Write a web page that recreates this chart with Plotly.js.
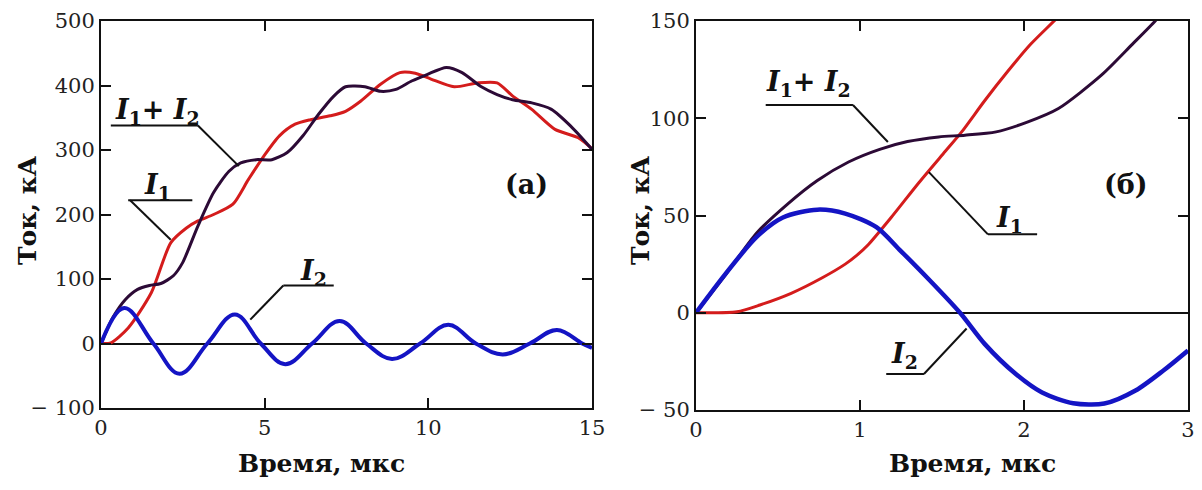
<!DOCTYPE html>
<html>
<head>
<meta charset="utf-8">
<script src="https://cdn.plot.ly/plotly-3.0.1.min.js"></script>
<style>
html,body{margin:0;padding:0;background:#fff;}
#chart{width:1202px;height:490px;}
</style>
</head>
<body>
<div id="chart"></div>
<script>
// ---------- Panel (а): 0–15 мкс ----------
const tA_I1 = [0, 0.3, 0.83, 1.54, 2.13, 2.61, 2.96, 3.44, 4.03, 4.5, 4.98, 5.45, 5.93, 6.4, 7.0, 7.47, 7.94, 8.54, 9.13, 9.6, 10.08, 10.79, 11.5, 12.1, 12.57, 13.16, 13.87, 14.58, 15];
const A_I1  = [0, 1, 24, 79, 156, 179, 190, 200, 216, 254, 291, 322, 340, 347, 353, 360, 376, 402, 420, 419, 410, 398, 404, 404, 384, 363, 332, 319, 302];

const tA_I2 = [0, 0.71, 1.6, 2.4, 3.25, 4.09, 4.88, 5.63, 6.45, 7.29, 8.1, 8.89, 9.75, 10.61, 11.45, 12.27, 13.1, 13.93, 14.7, 15];
const A_I2  = [0, 55, 0, -47, 0, 45, 0, -32, 0, 35, 0, -24, 0, 29, 0, -17, 0, 21, 0, -7];

const tA_Sum = [0, 0.37, 0.74, 1.12, 1.48, 1.83, 2.21, 2.49, 2.96, 3.44, 3.91, 4.27, 4.74, 5.22, 5.69, 6.17, 6.64, 7.12, 7.47, 8.06, 8.54, 9.01, 9.49, 9.96, 10.55, 11.03, 11.62, 12.1, 12.57, 13.16, 13.76, 14.35, 15];
const A_Sum  = [0, 41, 68, 84, 90, 93, 105, 125, 182, 234, 267, 280, 285, 285, 296, 322, 355, 384, 398, 398, 391, 394, 407, 417, 428, 420, 398, 386, 378, 373, 363, 337, 301];

// ---------- Panel (б): 0–3 мкс ----------
const tB_I1 = [0, 0.25, 0.39, 0.58, 0.77, 0.91, 0.98, 1.05, 1.19, 1.36, 1.52, 1.62, 1.76, 1.9, 2.04, 2.23, 2.35];
const B_I1  = [0, 0.5, 4, 10, 18, 25, 29.5, 35, 49, 67, 83, 93, 109, 124, 138, 154, 166];

const tB_I2 = [0, 0.18, 0.37, 0.53, 0.74, 0.91, 1.1, 1.24, 1.41, 1.61, 1.76, 1.95, 2.11, 2.3, 2.49, 2.68, 2.85, 3];
const B_I2  = [0, 20, 39, 49, 53, 51, 44, 32.5, 18, 0, -16, -31.5, -41, -46.5, -46.7, -40, -29.7, -19.4];

const tB_Sum = [0, 0.18, 0.37, 0.56, 0.74, 0.93, 1.12, 1.29, 1.48, 1.64, 1.83, 2.02, 2.21, 2.47, 2.66, 2.8, 2.9];
const B_Sum  = [0, 19.5, 41, 56, 68, 77.5, 84, 88, 90.4, 91.3, 93, 98, 105, 122, 138, 150, 160];

const xTicksA = [0, 5, 10, 15];
const yTicksA = [-100, 0, 100, 200, 300, 400, 500];
const yTextA  = ['\u2212 100', '0', '100', '200', '300', '400', '500'];
const xTicksB = [0, 1, 2, 3];
const yTicksB = [-50, 0, 50, 100, 150];
const yTextB  = ['\u2212 50', '0', '50', '100', '150'];

const RED = '#d41c1c', BLUE = '#1414c4', DARK = '#2c0a36';
const SERIF = 'DejaVu Serif';

function tr(x, y, color, w, xa, ya, sm) {
  return {x: x, y: y, xaxis: xa, yaxis: ya, type: 'scatter', mode: 'lines',
          line: {color: color, width: w, shape: 'spline', smoothing: sm}, hoverinfo: 'skip'};
}
const data = [
  tr(tA_I1, A_I1, RED, 3, 'x', 'y', 0.7),
  tr(tA_Sum, A_Sum, DARK, 3, 'x', 'y', 0.7),
  tr(tA_I2, A_I2, BLUE, 4, 'x', 'y', 1.1),
  tr(tB_I1, B_I1, RED, 3, 'x2', 'y2', 0.7),
  tr(tB_Sum, B_Sum, DARK, 3, 'x2', 'y2', 0.7),
  tr(tB_I2, B_I2, BLUE, 4.5, 'x2', 'y2', 0.8)
];

const W = 1202, H = 490;
const tickFont = {family: SERIF, size: 21, color: '#222'};
function axX(dom, range, ticks) {
  return {domain: dom, range: range, tickvals: ticks, ticktext: ticks.map(String),
    showline: true, linecolor: '#111', linewidth: 2, mirror: 'ticks',
    ticks: 'inside', ticklen: 10, tickwidth: 2, tickcolor: '#111',
    showgrid: false, zeroline: false, fixedrange: true, tickfont: tickFont};
}
function axY(dom, range, ticks, text, anchor) {
  return {domain: dom, range: range, tickvals: ticks, ticktext: text, anchor: anchor,
    showline: true, linecolor: '#111', linewidth: 2, mirror: 'ticks',
    ticks: 'inside', ticklen: 10, tickwidth: 2, tickcolor: '#111',
    showgrid: false, zeroline: true, zerolinecolor: '#111', zerolinewidth: 2, fixedrange: true,
    tickfont: tickFont};
}

const lblFont = {family: SERIF, size: 27, color: '#111'};
function lbl(text, x, y, xr, yr) {
  return {text: text, x: x, y: y, xref: xr, yref: yr, showarrow: false, font: lblFont,
          xanchor: 'center', yanchor: 'middle'};
}
const I1 = '<b><i>I</i><sub>1</sub></b>';
const I2 = '<b><i>I</i><sub>2</sub></b>';
const I12 = '<b><i>I</i><sub>1</sub>+ <i>I</i><sub>2</sub></b>';

function seg(x0, y0, x1, y1, xr, yr) {
  return {type: 'line', x0: x0, y0: y0, x1: x1, y1: y1, xref: xr, yref: yr,
          line: {color: '#111', width: 2}};
}
const titleFont = {family: SERIF, size: 25, color: '#111'};

const layout = {
  width: W, height: H, margin: {l: 0, r: 0, t: 0, b: 0},
  font: {family: SERIF},
  paper_bgcolor: '#fff', plot_bgcolor: '#fff', showlegend: false, hovermode: false,
  xaxis: axX([101 / W, 592 / W], [0, 15], xTicksA),
  yaxis: axY([1 - 408 / H, 1 - 21 / H], [-100, 500], yTicksA, yTextA, 'x'),
  xaxis2: Object.assign(axX([696 / W, 1188 / W], [0, 3], xTicksB), {anchor: 'y2'}),
  yaxis2: axY([1 - 410 / H, 1 - 21 / H], [-50, 150], yTicksB, yTextB, 'x2'),
  annotations: [
    {text: '<b>Время, мкс</b>', x: 321 / W, y: 1 - 463 / H, xref: 'paper', yref: 'paper', showarrow: false,
     font: titleFont, xanchor: 'center', yanchor: 'middle'},
    {text: '<b>Время, мкс</b>', x: 973 / W, y: 1 - 463 / H, xref: 'paper', yref: 'paper', showarrow: false,
     font: titleFont, xanchor: 'center', yanchor: 'middle'},
    {text: '<b>Ток, кА</b>', x: 27 / W, y: 1 - 210 / H, xref: 'paper', yref: 'paper', showarrow: false, textangle: -90,
     font: titleFont, xanchor: 'center', yanchor: 'middle'},
    {text: '<b>Ток, кА</b>', x: 640 / W, y: 1 - 210 / H, xref: 'paper', yref: 'paper', showarrow: false, textangle: -90,
     font: titleFont, xanchor: 'center', yanchor: 'middle'},
    lbl(I12, 1.72, 360, 'x', 'y'),
    lbl(I1, 1.74, 244, 'x', 'y'),
    lbl(I2, 6.5, 110, 'x', 'y'),
    lbl('<b>(а)</b>', 13.0, 247, 'x', 'y'),
    lbl(I12, 0.685, 118, 'x2', 'y2'),
    lbl(I1, 1.91, 48, 'x2', 'y2'),
    lbl(I2, 1.27, -22, 'x2', 'y2'),
    lbl('<b>(б)</b>', 2.62, 66, 'x2', 'y2')
  ],
  shapes: [
    seg(0.30, 338, 2.96, 338, 'x', 'y'), seg(2.96, 338, 4.21, 275, 'x', 'y'),
    seg(0.83, 222, 2.79, 222, 'x', 'y'), seg(0.89, 222, 2.13, 161, 'x', 'y'),
    seg(5.57, 90, 7.11, 90, 'x', 'y'), seg(5.57, 90, 4.56, 37, 'x', 'y'),
    seg(0.425, 106.8, 0.957, 106.8, 'x2', 'y2'), seg(0.957, 106.8, 1.17, 87.8, 'x2', 'y2'),
    seg(1.78, 40.3, 2.08, 40.3, 'x2', 'y2'), seg(1.78, 40.3, 1.42, 72.3, 'x2', 'y2'),
    seg(1.16, -31.5, 1.39, -31.5, 'x2', 'y2'), seg(1.39, -31.5, 1.65, -8.1, 'x2', 'y2')
  ]
};

Plotly.newPlot('chart', data, layout, {staticPlot: true, displayModeBar: false});
</script>
</body>
</html>
